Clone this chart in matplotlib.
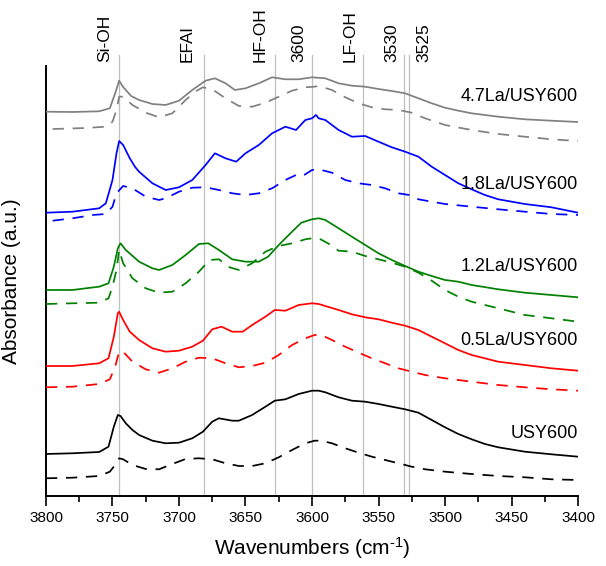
import matplotlib
matplotlib.use('Agg')
import matplotlib.pyplot as plt
from matplotlib.ticker import MultipleLocator

plt.rcParams['font.family'] = ['Liberation Sans', 'DejaVu Sans']
plt.rcParams['mathtext.fontset'] = 'custom'
plt.rcParams['mathtext.rm'] = 'Liberation Sans'
plt.rcParams['mathtext.it'] = 'Liberation Sans'

# Data (wavenumber in cm-1, absorbance in a.u. with offsets)
wn_47 = [3800, 3780, 3760, 3752, 3748, 3745, 3742, 3736, 3730, 3720, 3710, 3700, 3690, 3680, 3673, 3665, 3658,
         3650, 3640, 3630, 3620, 3610, 3600, 3590, 3580, 3570, 3560, 3550, 3540, 3530, 3520, 3510, 3500,
         3490, 3480, 3460, 3440, 3420, 3400]
abs_47 = [3.713, 3.71, 3.717, 3.747, 3.897, 4.023, 3.96, 3.87, 3.83, 3.79, 3.78, 3.823, 3.93, 4.023, 4.047, 3.997, 3.93,
          3.947, 3.997, 4.057, 4.037, 4.037, 4.057, 4.047, 3.997, 3.973, 3.963, 3.94, 3.92, 3.897, 3.847, 3.797, 3.753,
          3.723, 3.697, 3.663, 3.637, 3.623, 3.61]
wn_47d = [3795, 3770, 3755, 3750, 3747, 3745, 3742, 3735, 3725, 3715, 3705, 3695, 3688, 3682, 3675, 3665, 3655,
          3645, 3635, 3625, 3615, 3605, 3598, 3595, 3585, 3575, 3565, 3555, 3545, 3535, 3525, 3515, 3500, 3480,
          3460, 3440, 3420, 3400]
abs_47d = [3.54, 3.55, 3.563, 3.613, 3.73, 3.863, 3.863, 3.78, 3.703, 3.657, 3.697, 3.83, 3.913, 3.957, 3.937, 3.847,
           3.77, 3.763, 3.803, 3.863, 3.923, 3.957, 3.963, 3.97, 3.93, 3.857, 3.797, 3.757, 3.737, 3.73, 3.703, 3.647,
           3.58, 3.53, 3.49, 3.463, 3.437, 3.42]

wn_18 = [3800, 3780, 3770, 3760, 3755, 3750, 3747, 3745, 3742, 3737, 3733, 3730, 3720, 3710, 3700, 3690, 3680, 3673,
         3665, 3657, 3650, 3640, 3630, 3620, 3612, 3605, 3600, 3597, 3595, 3590, 3580, 3570, 3560, 3550, 3540,
         3530, 3520, 3510, 3500, 3490, 3480, 3470, 3460, 3440, 3420, 3400]
abs_18 = [2.703, 2.713, 2.73, 2.747, 2.797, 3.03, 3.297, 3.42, 3.38, 3.247, 3.16, 3.113, 2.997, 2.93, 2.957, 3.03, 3.18,
          3.297, 3.247, 3.213, 3.297, 3.38, 3.497, 3.563, 3.53, 3.63, 3.647, 3.68, 3.647, 3.63, 3.53, 3.463, 3.47,
          3.413, 3.357, 3.313, 3.263, 3.163, 3.08, 2.997, 2.937, 2.88, 2.837, 2.79, 2.757, 2.703]
wn_18d = [3795, 3780, 3765, 3755, 3750, 3747, 3742, 3735, 3725, 3715, 3710, 3700, 3690, 3680, 3670, 3660, 3650,
          3640, 3630, 3620, 3612, 3607, 3600, 3595, 3585, 3575, 3565, 3555, 3545, 3535, 3527, 3520, 3510, 3500,
          3480, 3460, 3440, 3420, 3400]
abs_18d = [2.623, 2.647, 2.68, 2.69, 2.763, 2.897, 2.97, 2.947, 2.863, 2.83, 2.847, 2.913, 2.953, 2.957, 2.93, 2.897,
           2.88, 2.897, 2.947, 3.03, 3.08, 3.07, 3.13, 3.137, 3.103, 3.03, 2.997, 2.98, 2.947, 2.897, 2.88, 2.837,
           2.813, 2.79, 2.763, 2.737, 2.713, 2.69, 2.68]

wn_12 = [3800, 3780, 3770, 3760, 3753, 3749, 3746, 3744, 3740, 3730, 3720, 3715, 3705, 3695, 3685, 3678, 3670,
         3660, 3650, 3640, 3633, 3625, 3615, 3608, 3600, 3595, 3590, 3580, 3570, 3560, 3550, 3540, 3530, 3520,
         3510, 3500, 3490, 3480, 3460, 3440, 3420, 3400]
abs_12 = [1.93, 1.93, 1.947, 1.963, 1.997, 2.163, 2.347, 2.397, 2.33, 2.213, 2.147, 2.13, 2.18, 2.28, 2.39, 2.397,
          2.33, 2.237, 2.213, 2.213, 2.263, 2.38, 2.513, 2.603, 2.637, 2.647, 2.63, 2.547, 2.463, 2.38, 2.297, 2.23,
          2.17, 2.113, 2.07, 2.03, 2.013, 1.98, 1.937, 1.903, 1.88, 1.857]
wn_12d = [3800, 3780, 3760, 3753, 3750, 3747, 3745, 3742, 3735, 3725, 3715, 3705, 3695, 3685, 3677, 3670, 3662,
          3655, 3645, 3635, 3625, 3615, 3605, 3600, 3595, 3588, 3580, 3570, 3560, 3550, 3540, 3530, 3520, 3510,
          3500, 3490, 3480, 3460, 3440, 3420, 3400]
abs_12d = [1.79, 1.797, 1.803, 1.847, 1.963, 2.13, 2.33, 2.197, 2.047, 1.947, 1.903, 1.913, 1.997, 2.113, 2.23, 2.237,
           2.157, 2.13, 2.197, 2.313, 2.37, 2.397, 2.437, 2.447, 2.447, 2.397, 2.323, 2.313, 2.27, 2.237, 2.203, 2.163,
           2.103, 2.023, 1.93, 1.863, 1.813, 1.747, 1.68, 1.647, 1.613]

wn_05 = [3800, 3780, 3760, 3753, 3749, 3746, 3745, 3742, 3737, 3730, 3720, 3710, 3700, 3690, 3682, 3675, 3668,
         3660, 3652, 3645, 3635, 3628, 3620, 3610, 3600, 3595, 3590, 3580, 3570, 3560, 3550, 3540, 3530, 3520,
         3510, 3500, 3490, 3480, 3460, 3440, 3420, 3400]
abs_05 = [1.17, 1.17, 1.197, 1.247, 1.463, 1.697, 1.713, 1.63, 1.513, 1.43, 1.347, 1.313, 1.323, 1.363, 1.423, 1.537,
          1.563, 1.513, 1.513, 1.58, 1.663, 1.73, 1.723, 1.78, 1.797, 1.79, 1.77, 1.73, 1.687, 1.657, 1.637, 1.603,
          1.573, 1.53, 1.463, 1.397, 1.33, 1.28, 1.213, 1.18, 1.147, 1.123]
wn_05d = [3800, 3780, 3760, 3752, 3748, 3745, 3742, 3735, 3725, 3715, 3705, 3695, 3685, 3675, 3665, 3655, 3645,
          3635, 3625, 3615, 3605, 3598, 3593, 3585, 3575, 3565, 3555, 3545, 3535, 3525, 3515, 3500, 3480, 3460,
          3440, 3420, 3400]
abs_05d = [0.957, 0.963, 0.99, 1.037, 1.163, 1.313, 1.313, 1.213, 1.137, 1.103, 1.147, 1.213, 1.253, 1.247, 1.197,
           1.157, 1.17, 1.203, 1.28, 1.38, 1.447, 1.48, 1.48, 1.43, 1.363, 1.303, 1.247, 1.197, 1.147, 1.113, 1.08,
           1.047, 1.013, 0.98, 0.957, 0.937, 0.923]

wn_0 = [3800, 3780, 3760, 3753, 3749, 3746, 3744, 3740, 3735, 3730, 3720, 3710, 3700, 3690, 3682, 3675, 3670, 3660,
        3655, 3645, 3635, 3628, 3620, 3610, 3600, 3595, 3590, 3580, 3570, 3560, 3550, 3540, 3530, 3520, 3510,
        3500, 3490, 3480, 3470, 3460, 3440, 3420, 3400]
abs_0 = [0.29, 0.297, 0.31, 0.363, 0.563, 0.68, 0.67, 0.597, 0.53, 0.48, 0.423, 0.397, 0.403, 0.447, 0.513, 0.613, 0.647,
         0.623, 0.623, 0.68, 0.763, 0.823, 0.837, 0.89, 0.923, 0.923, 0.907, 0.857, 0.823, 0.813, 0.79, 0.763, 0.737,
         0.703, 0.63, 0.557, 0.49, 0.437, 0.39, 0.357, 0.313, 0.287, 0.263]
wn_0d = [3800, 3780, 3760, 3752, 3748, 3745, 3742, 3735, 3725, 3715, 3705, 3695, 3685, 3675, 3665, 3655, 3645,
         3635, 3625, 3615, 3605, 3598, 3593, 3585, 3575, 3565, 3555, 3545, 3535, 3525, 3515, 3500, 3480, 3460,
         3440, 3420, 3400]
abs_0d = [0.047, 0.053, 0.07, 0.113, 0.18, 0.247, 0.237, 0.18, 0.14, 0.137, 0.19, 0.24, 0.247, 0.237, 0.197, 0.17,
          0.17, 0.197, 0.257, 0.33, 0.397, 0.423, 0.423, 0.397, 0.347, 0.303, 0.263, 0.23, 0.197, 0.163, 0.137, 0.113,
          0.09, 0.07, 0.057, 0.037, 0.03]

sample_names = ['4.7La/USY600', '1.8La/USY600', '1.2La/USY600', '0.5La/USY600', 'USY600']
name_y = [3.86, 2.98, 2.16, 1.42, 0.49]

band_pos = [3745, 3681, 3628, 3600, 3562, 3531, 3527]
band_names = ['Si-OH', 'EFAl', 'HF-OH', '3600', 'LF-OH', '3530', '3525']
band_label_x = [3755.5, 3694, 3639, 3610, 3571.5, 3540, 3516]

fig = plt.figure(figsize=(6.06, 5.66), dpi=100)
ax = fig.add_axes([0.0759, 0.1237, 0.8779, 0.7597])

# reference lines for bands
for w, name, lx in zip(band_pos, band_names, band_label_x):
    ax.axvline(w, ymin=0, ymax=1.0256, color='#bfbfbf', lw=0.9, clip_on=False, zorder=1)
    ax.text(lx, 1.01, name, transform=ax.get_xaxis_transform(), rotation=90,
            ha='center', va='bottom', fontsize=12.5)

dash = (0, (6.5, 5))
series = [
    (wn_47, abs_47, wn_47d, abs_47d, '#808080'),
    (wn_18, abs_18, wn_18d, abs_18d, '#0000ff'),
    (wn_12, abs_12, wn_12d, abs_12d, '#008000'),
    (wn_05, abs_05, wn_05d, abs_05d, '#ff0000'),
    (wn_0, abs_0, wn_0d, abs_0d, '#000000'),
]
for ws, a_s, wd, a_d, c in series:
    ax.plot(ws, a_s, color=c, lw=1.25, zorder=3, solid_joinstyle='round')
    ax.plot(wd, a_d, color=c, lw=1.25, linestyle=dash, zorder=3)

for name, y in zip(sample_names, name_y):
    ax.text(3400, y, name, ha='right', va='center', fontsize=13)

ax.set_xlim(3800, 3400)
ax.set_ylim(-0.13, 4.17)
ax.xaxis.set_major_locator(MultipleLocator(50))
ax.xaxis.set_minor_locator(MultipleLocator(25))
ax.tick_params(axis='x', which='major', direction='out', length=7, width=1.2, labelsize=11, pad=4)
ax.tick_params(axis='x', which='minor', direction='out', length=4, width=1.2)
ax.set_yticks([])
for s in ['top', 'right']:
    ax.spines[s].set_visible(False)
for s in ['left', 'bottom']:
    ax.spines[s].set_linewidth(1.4)

ax.set_xlabel(r'Wavenumbers (cm$^{\text{-1}}$)', fontsize=15, labelpad=7)
ax.set_ylabel('Absorbance (a.u.)', fontsize=15)
ax.yaxis.set_label_coords(-0.047, 0.5)

plt.savefig('out.png', dpi=100)
